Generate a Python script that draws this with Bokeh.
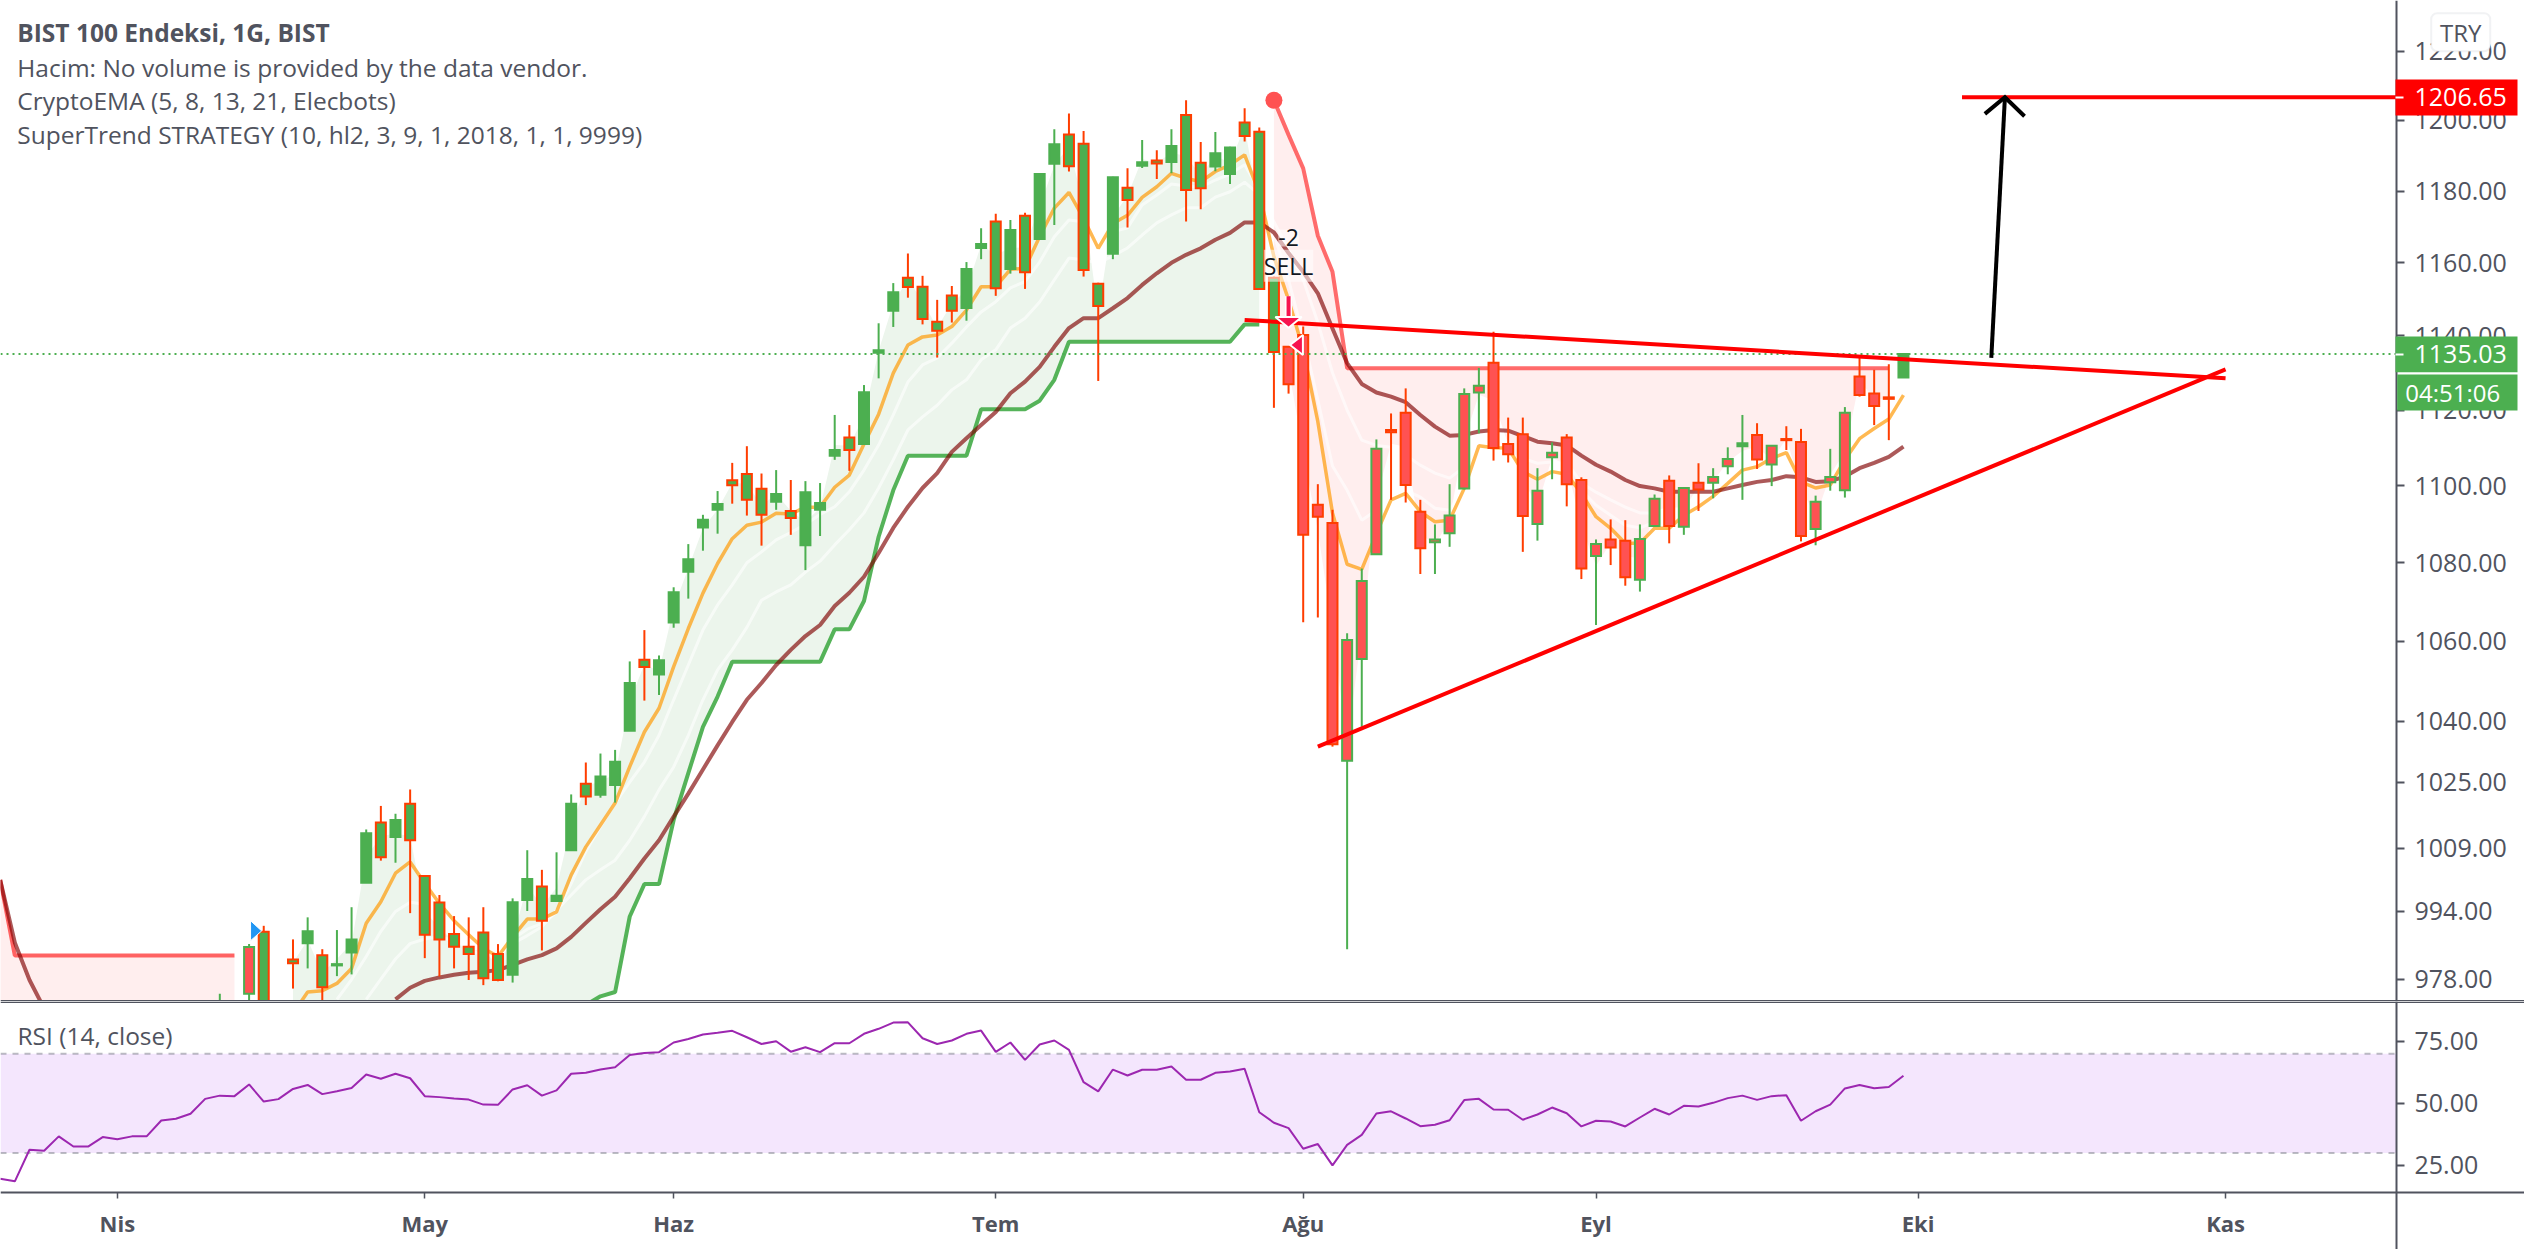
from bokeh.embed import file_html
from bokeh.layouts import column
from bokeh.models import (BoxAnnotation, ColumnDataSource, FixedTicker, Label, PrintfTickFormatter,
                          Range1d)
from bokeh.plotting import figure
from bokeh.resources import INLINE

# ---------------- data ----------------
first_bar = 15
body_top = [
    972.5, 968, 985.5, 989.1, 968, 982.6, 989.2, 983.6, 981.5, 987.3,
    1012.6, 1015.2, 1015.8, 1019.7, 1002.3, 996, 988.6, 985.6, 988.9, 983.9,
    996.1, 1001.6, 999.8, 997.6, 1019.7, 1024.6, 1026.4, 1030, 1049.5, 1055.3,
    1055.2, 1072.4, 1080.9, 1091.1, 1095.2, 1101.4, 1103.1, 1099.2, 1097.8, 1093.4,
    1098.3, 1095.5, 1109.4, 1112.7, 1124.8, 1136.1, 1151.9, 1155.9, 1153.4, 1143.8,
    1151, 1158.3, 1165.2, 1171.5, 1169.1, 1173.1, 1184.8, 1193.2, 1196, 1193.4,
    1154.2, 1183.9, 1180.9, 1188.1, 1188.6, 1192.7, 1201.6, 1188, 1190.7, 1192.3,
    1199.4, 1196.8, 1155.9, 1137, 1140.2, 1095, 1090.3, 1060.3, 1075.3, 1109.7,
    1114.7, 1119.3, 1093.2, 1086, 1092.2, 1124.3, 1126.5, 1132.7, 1111, 1113.6,
    1098.7, 1108.7, 1112.7, 1101.5, 1084.8, 1086, 1085.7, 1086.1, 1096.6, 1101.3,
    1099.4, 1100.8, 1102.3, 1107, 1111.2, 1113.4, 1110.5, 1112.3, 1111.5, 1095.8,
    1102.3, 1119.3, 1129, 1124.4, 1123.4, 1135.03]
body_bottom = [
    971, 967, 974.6, 970, 967, 981.7, 986.4, 976.1, 981.2, 984.2,
    1000.7, 1006.8, 1011.7, 1010.9, 988.4, 987.3, 985.6, 983.9, 978.2, 977.8,
    979, 996.6, 991.7, 996.4, 1008.5, 1021.5, 1021.9, 1024.3, 1037.6, 1053.5,
    1051.6, 1064.7, 1077.7, 1089.1, 1093.7, 1100.1, 1096.3, 1092.4, 1095.8, 1091.6,
    1084.5, 1093.7, 1107.9, 1109.4, 1111, 1135.4, 1146.8, 1153.3, 1144.6, 1141.4,
    1146.8, 1147.6, 1164.1, 1153, 1158.3, 1157.4, 1166.6, 1187.7, 1187, 1158,
    1148.1, 1162.5, 1177.5, 1187.1, 1187.8, 1188.2, 1180.3, 1180.8, 1186.9, 1184.8,
    1195.6, 1152.8, 1135.6, 1126.9, 1087.2, 1091.9, 1034.3, 1030.2, 1055.5, 1082.2,
    1114.1, 1100.2, 1083.7, 1085.3, 1087.6, 1099.3, 1124.7, 1109.9, 1108.3, 1092.1,
    1090, 1107.5, 1100.4, 1078.5, 1081.7, 1083.9, 1076.3, 1075.6, 1089.5, 1089.5,
    1089.3, 1099, 1100.8, 1105.1, 1110.4, 1106.9, 1105.6, 1112, 1086.9, 1088.7,
    1100.9, 1098.8, 1124, 1121.1, 1123, 1128.7]
high = [
    974.6, 970, 986.2, 990.5, 971, 987.3, 992.5, 985, 989.5, 994.9,
    1013.5, 1019.2, 1017.3, 1023.2, 1002.5, 997.8, 992.8, 992.5, 994.9, 986.2,
    997, 1008.5, 1003.8, 1008, 1022, 1029.8, 1032, 1032.9, 1054.9, 1062.8,
    1056.4, 1073.7, 1084.8, 1092.4, 1098.6, 1106, 1110.4, 1103.2, 1104.1, 1101.5,
    1101.2, 1100.7, 1118.7, 1116, 1126.7, 1143.4, 1154.4, 1162.6, 1156.4, 1149.8,
    1153.6, 1160.2, 1169.6, 1173.6, 1171.9, 1173.9, 1185, 1197.5, 1202, 1197,
    1154.5, 1184, 1186.4, 1194.4, 1191.5, 1197.5, 1205.8, 1193.9, 1196.7, 1192.5,
    1203.5, 1198, 1156.2, 1137, 1142.5, 1100.4, 1093.7, 1062, 1078.5, 1112.2,
    1119.1, 1125.8, 1096.3, 1089.9, 1100.4, 1125.8, 1131.3, 1141.1, 1118, 1118,
    1104.6, 1111.4, 1113.6, 1102.2, 1086, 1091.2, 1091, 1089.9, 1097.7, 1102.7,
    1099.5, 1105.9, 1104.6, 1110.1, 1118.7, 1116.5, 1110.7, 1115.7, 1115, 1097.4,
    1109.7, 1120.8, 1134.6, 1130.8, 1132.3, 1135.03]
low = [
    970, 965, 972, 968, 965, 975.8, 980.5, 973.1, 978.7, 979.1,
    1000.7, 1006, 1005.5, 993.5, 982.9, 978.6, 980.5, 977.8, 976.6, 977.5,
    977.2, 994, 984.7, 996.4, 1008.5, 1019.4, 1021.2, 1020, 1037.6, 1045.1,
    1046.5, 1063.4, 1070.8, 1083.1, 1087.5, 1095.3, 1092.2, 1084.4, 1093.7, 1087.2,
    1078.1, 1086.9, 1106.8, 1103.9, 1111, 1128.5, 1142.4, 1150.4, 1143.1, 1134.1,
    1143.6, 1144.1, 1161, 1150.9, 1157, 1152.8, 1166.6, 1170.5, 1185.5, 1156.2,
    1127.8, 1161, 1169.8, 1186.5, 1183.4, 1185, 1171.5, 1174.9, 1185.6, 1182,
    1194, 1152.5, 1120.6, 1124.4, 1064.8, 1066, 1033.7, 985, 1038.6, 1082,
    1096.3, 1095.6, 1077.1, 1077.1, 1084.1, 1099, 1113.8, 1106.6, 1106.1, 1082.8,
    1085.7, 1101.7, 1094.6, 1075.8, 1064.1, 1079.4, 1074.1, 1072.6, 1089.4, 1085,
    1087.2, 1093.4, 1096.7, 1103, 1096.3, 1104.4, 1099.9, 1109.4, 1085.5, 1084.5,
    1098.7, 1096.9, 1123.6, 1116, 1112, 1128.7]
bar_kind = (
    "G G RG GR G GR G GR G G "
    "G GR G GR GR GR GR GR GR GR "
    "G G GR G G GR G G G GR "
    "G G G G G GR GR GR G GR "
    "G G G GR G G G GR GR GR "
    "GR G G GR G GR G G GR GR "
    "GR G GR G GR G GR GR G G "
    "GR GR GR R R R R RG RG RG "
    "R R R RG RG RG RG R R R "
    "RG RG R R RG R R RG RG R "
    "RG R RG RG G R RG R R RG "
    "RG RG R R R G").split()

ema5_start = 20
ema5 = [970, 975, 975.3, 977, 980.5, 991.1, 996.2, 1003, 1005.7, 1000.6,
        995.8, 991.7, 988.4, 985.2, 983.3, 987.9, 992.1, 992.1, 993.8, 1002.6,
        1009.3, 1014.6, 1019.9, 1028.8, 1037.3, 1043.2, 1053.6, 1063.2, 1072.2, 1079.8,
        1086.2, 1089.7, 1090.5, 1092.8, 1092.6, 1094.4, 1094.4, 1099.6, 1102.8, 1111,
        1118.9, 1129.9, 1137.5, 1139.7, 1140.2, 1142.5, 1147, 1153.4, 1153.4, 1158.2,
        1158.5, 1167.3, 1175.2, 1179.6, 1172.3, 1164, 1170.9, 1173.2, 1178.2, 1181.2,
        1185, 1183.6, 1182.6, 1185.5, 1187.4, 1190.2, 1179.4, 1161.7, 1149.8, 1136.2,
        1116.9, 1092.9, 1079.6, 1078.3, 1087.5, 1096.3, 1098, 1093.2, 1090.6, 1091,
        1099.3, 1110.5, 1110, 1109.9, 1103.7, 1101.7, 1103.7, 1103, 1098, 1091.9,
        1088.9, 1085, 1085, 1088.9, 1088.9, 1092.3, 1094.5, 1097.2, 1100.6, 1104.1,
        1105, 1107.2, 1108.7, 1101, 1099.4, 1100.2, 1106.8, 1112.4, 1115.1, 1117.6, 1124]
ema8_start = 23
ema8 = [973.3, 977.9, 983.3, 989.2, 993.9, 996.1, 995.6, 993.7, 991, 987.4,
        984.6, 985.5, 987.4, 989.7, 991, 993.7, 1000.5, 1008.2, 1014.2, 1019.9,
        1025, 1029.9, 1036.5, 1045.3, 1054, 1062.8, 1069.2, 1074.3, 1080, 1082.8,
        1085.9, 1087.8, 1089.9, 1092.5, 1094.5, 1098.4, 1104.1, 1110.7, 1118.7, 1127.5,
        1132.1, 1134, 1138, 1142.4, 1146.5, 1149.3, 1153.1, 1154.8, 1160.2, 1167.2,
        1171.9, 1171.4, 1166.4, 1168.6, 1169.7, 1176.1, 1178.9, 1182, 1181.4, 1181.1,
        1183.1, 1184.8, 1187.4, 1180.3, 1167.8, 1155.3, 1140, 1122.7, 1105.2, 1098.8,
        1091, 1093.6, 1097.5, 1098.8, 1097, 1094.1, 1093.6, 1099.3, 1106.2, 1106.7,
        1106.7, 1103.3, 1102, 1103.3, 1102.8, 1098.8, 1094.9, 1092.3, 1089.7, 1089,
        1090.5, 1090.5, 1093.1, 1094.9, 1097.5, 1100.7, 1103.6, 1104.6, 1106.2, 1107.3,
        1102.8, 1101, 1101.2, 1105.4, 1110.4, 1113.3, 1115.2, 1120.5]
ema13_start = 25
ema13 = [973.3, 978, 982.7, 986.3, 987.4, 987.9, 987, 985.1, 983.4, 984.7,
         986.3, 988.2, 990.3, 994.2, 997.8, 1001.4, 1003.8, 1006.1, 1010.9, 1016.6,
         1023.1, 1028.7, 1036.5, 1045.3, 1052.8, 1057.8, 1063.5, 1070.4, 1072.5, 1074.3,
         1077.6, 1080.4, 1084.6, 1088.5, 1092.9, 1099.4, 1106.8, 1114.7, 1118.2, 1121.3,
         1125.4, 1128.1, 1133.5, 1136.2, 1142.1, 1144.8, 1149.2, 1155.3, 1161.3, 1160.8,
         1159.9, 1161.9, 1164.1, 1167.7, 1171.1, 1173.3, 1175.3, 1175.3, 1178.3, 1179.8,
         1182.5, 1178.9, 1171.4, 1163.6, 1155.3, 1143.6, 1130, 1120, 1112, 1110.6,
         1110.1, 1108, 1105.4, 1103.3, 1102, 1104.9, 1107.2, 1108, 1108, 1107.2,
         1105.9, 1106.2, 1106.2, 1100.7, 1098.3, 1096.3, 1094.4, 1092.9, 1092.9, 1092.9,
         1094.9, 1096.8, 1098.8, 1102, 1104.1, 1104.1, 1104.6, 1105.4, 1101.5, 1101,
         1101, 1103.6, 1106.7, 1109.4, 1111.2, 1114.7]
ema21_early = [1001.4, 986.5, 977.8, 971.2]
ema21_start = 27
ema21 = [973.3, 976, 977.6, 978.4, 979, 979.5, 979.7, 980.1, 981.3, 982.6,
         983.6, 985.2, 987.9, 991.2, 994.4, 997.4, 1001.8, 1006.5, 1010.9, 1016.6,
         1022.2, 1028.1, 1034, 1039.8, 1045.3, 1049.5, 1054, 1057.8, 1061.3, 1064.1,
         1068.9, 1072.3, 1076.4, 1082.5, 1089, 1094.5, 1099.4, 1103.3, 1108.9, 1112.5,
         1116, 1119.5, 1124.5, 1127.6, 1131.6, 1137, 1142.1, 1144.8, 1144.8, 1147.5,
         1150.3, 1153.9, 1157.1, 1160, 1162.2, 1164, 1166.4, 1168.3, 1171.2, 1171.2,
         1168.4, 1162.7, 1157.5, 1151.6, 1142, 1132.6, 1127, 1124.7, 1123.6, 1122.1,
         1118.7, 1115.6, 1113.2, 1113.4, 1114.3, 1114.7, 1114.5, 1113.1, 1111.6, 1111.2,
         1110.6, 1107.9, 1105.5, 1103.7, 1101.5, 1099.9, 1099.3, 1098.4, 1098.4, 1098.4,
         1098.4, 1099.3, 1100.2, 1101, 1101.5, 1102.5, 1102.2, 1101, 1101.2, 1102.4,
         1104.6, 1106, 1107.6, 1110.3]

st_early = [1001.4, 983.5] + [983.5] * 15      # bars 0-16, red
st_early_floor = 960                           # the band runs past the bottom of the pane
st_up_start = 20
st_up = [965] * 20 + [972, 974, 975, 992.7, 1000.4, 1000.4, 1015.8, 1027.2, 1038.6, 1046.1] \
        + [1054.8] * 7 + [1063, 1063, 1070.2, 1086.7, 1098.8] + [1107.9] * 5 + [1120.2] * 4 \
        + [1122.5, 1128.1] + [1138.4] * 12 + [1143.1, 1143.1]
st_down_start = 87
st_down = [1205.8, 1195.9, 1186.4, 1167.5, 1157.5] + [1131.2] * 38

rsi = [19.6, 18.6, 31.3, 30.9, 36.7, 32.6, 32.6, 36.4, 35.5, 36.7,
       36.7, 43.1, 43.8, 45.8, 51.8, 53.1, 52.9, 57.6, 50.7, 51.7,
       55.8, 57.4, 53.7, 54.9, 56.2, 61.6, 59.9, 61.9, 60.1, 52.9,
       52.5, 51.9, 51.5, 49.5, 49.4, 55.6, 57.3, 53.1, 55.2, 61.9,
       62.3, 63.6, 64.5, 69.5, 70.3, 70.6, 74.5, 75.9, 77.7, 78.4,
       79.2, 76.6, 73.9, 75, 70.8, 72.6, 70.6, 74.2, 74.2, 78,
       80, 82.5, 82.6, 76.2, 73.9, 75.3, 78, 79.3, 70.7, 74.5,
       67.5, 73.7, 75.3, 71.5, 58.5, 54.8, 63.6, 61.2, 63.5, 63.5,
       64.8, 59.5, 59.5, 62.3, 62.8, 63.9, 46.4, 42.2, 40, 31.7,
       33.6, 25, 33.3, 37.3, 45.9, 46.8, 43.9, 40.8, 41.4, 43.2,
       51.3, 51.8, 47.5, 47.4, 43.4, 45.5, 48.3, 46, 40.7, 43,
       42.7, 40.7, 44.3, 47.8, 45.5, 49, 48.7, 50.2, 52.1, 53.1,
       51.4, 52.9, 53.3, 43, 46.8, 49.5, 56, 57.4, 56.1, 56.6, 61.1]

price_ticks = [978, 994, 1009, 1025, 1040, 1060, 1080, 1100, 1120, 1140, 1160, 1180, 1200, 1220]
rsi_ticks = [25, 50, 75]
month_ticks = [8, 29, 46, 68, 89, 109, 131, 152]
month_labels = ["Nis", "May", "Haz", "Tem", "Ağu", "Eyl", "Eki", "Kas"]
last_price = 1135.03
target_price = 1206.65
legend_lines = ["BIST 100 Endeksi, 1G, BIST",
                "Hacim: No volume is provided by the data vendor.",
                "CryptoEMA (5, 8, 13, 21, Elecbots)",
                "SuperTrend STRATEGY (10, hl2, 3, 9, 1, 2018, 1, 1, 9999)"]

# ---------------- styling ----------------
FONT = "Open Sans"
INK = "#50535e"
GREEN = "#4caf50"
RED_FILL = "#ff5252"
RED_EDGE = "#ff3d00"
XR = (0.02, 172.42)      # whole page width
AXIS_X = 163.68          # where the price axis stands
PAGE_W = 2524
MAIN_H = 1001
RSI_H = 191
BOTTOM_H = 57
RSI_PANE_FLOOR = 14.1


def span_from(start, values):
    return list(range(start, start + len(values)))


def style_price_axis(axis):
    axis.fixed_location = AXIS_X
    axis.formatter = PrintfTickFormatter(format="%.2f")
    axis.minor_tick_line_color = None
    axis.major_tick_out, axis.major_tick_in = 8, 0
    axis.major_tick_line_width = 2
    axis.major_tick_line_color = INK
    axis.axis_line_width = 2
    axis.axis_line_color = INK
    axis.major_label_text_font = FONT
    axis.major_label_text_font_size = "25px"
    axis.major_label_text_color = INK
    axis.major_label_standoff = 10


x_range = Range1d(*XR)
p = figure(width=PAGE_W, height=MAIN_H, frame_width=PAGE_W, frame_height=MAIN_H,
           x_range=x_range, y_range=Range1d(972.8, 1234.8), y_axis_type="log",
           y_axis_location="right", x_axis_location=None, output_backend="svg",
           toolbar_location=None, min_border=0, outline_line_color=None,
           background_fill_color="white")
p.grid.visible = False
p.yaxis[0].ticker = FixedTicker(ticks=price_ticks)
style_price_axis(p.yaxis[0])

# super trend bands, between the band line and the bar's ohlc4
bars = list(range(first_bar, first_bar + len(body_top)))
ohlc4 = {i: (t + b + h + l) / 4 for i, t, b, h, l in zip(bars, body_top, body_bottom, high, low)}

xe = span_from(0, st_early)
p.varea(xe, y1=st_early, y2=[st_early_floor] * len(xe), fill_color="#ffeeee")
xu = span_from(st_up_start, st_up)
p.varea(xu, y1=st_up, y2=[ohlc4[i] for i in xu], fill_color="#ecf5ec")
xd = span_from(st_down_start, st_down)
p.varea(xd, y1=st_down, y2=[ohlc4[i] for i in xd], fill_color="#ffeeee")

# moving averages
p.line(span_from(ema13_start, ema13), ema13, line_color="white", line_alpha=0.6, line_width=3)
p.line(span_from(ema8_start, ema8), ema8, line_color="white", line_alpha=0.6, line_width=3)
p.line(span_from(ema5_start, ema5), ema5, line_color="#ff9800", line_alpha=0.68, line_width=3.5)
p.line(xe, st_early, line_color=RED_FILL, line_alpha=0.9, line_width=4)
p.line(xd, st_down, line_color=RED_FILL, line_alpha=0.85, line_width=4)
p.line(xu, st_up, line_color=GREEN, line_alpha=0.95, line_width=4)
p.line(span_from(0, ema21_early), ema21_early, line_color="#800000", line_alpha=0.65, line_width=4)
p.line(span_from(ema21_start, ema21), ema21, line_color="#800000", line_alpha=0.65, line_width=4)
p.scatter([st_down_start], [st_down[0]], size=17, marker="circle", fill_color=RED_FILL, line_color=None)

# candles
src = ColumnDataSource(dict(
    x=bars, top=body_top, bottom=body_bottom, high=high, low=low,
    fill=[GREEN if k.startswith("G") else RED_FILL for k in bar_kind],
    edge=[GREEN if k in ("G", "RG") else RED_EDGE for k in bar_kind]))
p.segment("x", "high", "x", "low", source=src, line_color="edge", line_width=2)
p.vbar("x", width=10 / 14.64, top="top", bottom="bottom", source=src, fill_color="fill",
       line_color="edge", line_width=2, line_join="miter")

# dotted last-price line
p.line([XR[0], AXIS_X], [last_price, last_price], line_color=GREEN, line_width=2, line_dash=[2, 4])

# drawn trend lines and target
p.line([85, 152], [1144.3, 1128.5], line_color="#ff0000", line_width=4)
p.line([90, 152], [1033.7, 1130.9], line_color="#ff0000", line_width=4)
p.line([134, AXIS_X], [target_price, target_price], line_color="#ff0000", line_width=4)
p.line([136, 136.93], [1134, target_price], line_color="black", line_width=4)
p.line([135.56, 136.93, 138.27], [1201.9, target_price, 1201.2], line_color="black", line_width=4, line_join="miter")

# signals
p.patch([17.1, 17.1, 17.86], [991.7, 987, 989.3], fill_color="#2196f3", line_color="white", line_width=1)
p.segment([88], [1150.8], [88], [1145.1], line_color="white", line_width=7)
p.segment([88], [1150.8], [88], [1145.1], line_color="#f7134f", line_width=4)
p.patch([87.1, 88.9, 88], [1145.1, 1145.1, 1142.2], fill_color="#f7134f", line_color="white", line_width=2)
p.patch([88.98, 88.98, 88.1], [1140.2, 1134.8, 1137.5], fill_color="#f7134f", line_color="white", line_width=2)

for sig_text, sig_price in (("-2", 1166.9), ("SELL", 1159.2)):
    p.add_layout(Label(x=88, y=sig_price, text=sig_text, text_font=FONT, text_font_size="23px",
                       text_color="#131722", text_align="center", text_baseline="middle",
                       background_fill_color="white", background_fill_alpha=0.55))


def box(plot, left, right, top, bottom, color, **kw):
    plot.add_layout(BoxAnnotation(left=left, right=right, top=top, bottom=bottom,
                                  left_units="canvas", right_units="canvas",
                                  top_units="canvas", bottom_units="canvas",
                                  fill_color=color, fill_alpha=1, line_color=kw.pop("line_color", None),
                                  **kw))


def note(plot, x, y, text, color=INK, style="normal", size="24.5px", y_units="screen", align="left"):
    plot.add_layout(Label(x=x, y=y, x_units="screen", y_units=y_units, text=text, text_font=FONT,
                          text_font_size=size, text_font_style=style, text_color=color,
                          text_baseline="middle", text_align=align))


# price tags in the axis strip
box(p, 2395, 2517, 79, 115, "#ff0000")
box(p, 2395, 2517, 336, 371.7, GREEN)
box(p, 2396.7, 2517, 374, 410, GREEN)
box(p, 2395, 2403, 96, 98, "white")
box(p, 2395, 2403, 353, 355, "white")
note(p, 2414, target_price, "1206.65", "white", size="25px", y_units="data")
note(p, 2414, last_price, "1135.03", "white", size="25px", y_units="data")
note(p, 2404.7, 1124.8, "04:51:06", "white", size="24px", y_units="data")
box(p, 2430.7, 2489.7, 12.7, 50.7, "white", line_color="#d1d4dc", line_width=2, border_radius=6)
note(p, 2460.2, MAIN_H - 31.7, "TRY", size="24px", align="center")

# separator on top of the RSI pane (main side)
box(p, 0, PAGE_W, 999.5, 1001, INK)

# legend
for k, (txt, yy) in enumerate(zip(legend_lines, [32.3, 66.7, 100, 134])):
    note(p, 16.8, MAIN_H - yy, txt, style="bold" if k == 0 else "normal")

# ---------------- RSI pane (its frame runs to the page bottom; the axis stands on the pane floor) ----------------
per_px = (91 - RSI_PANE_FLOOR) / RSI_H
r = figure(width=PAGE_W, height=RSI_H + BOTTOM_H, frame_width=PAGE_W, frame_height=RSI_H + BOTTOM_H,
           x_range=x_range, y_range=Range1d(RSI_PANE_FLOOR - BOTTOM_H * per_px, 91), y_axis_location="right",
           output_backend="svg", toolbar_location=None, min_border=0, outline_line_color=None,
           background_fill_color="white")
r.grid.visible = False
r.yaxis[0].ticker = FixedTicker(ticks=rsi_ticks)
style_price_axis(r.yaxis[0])

ax2 = r.xaxis[0]
ax2.fixed_location = RSI_PANE_FLOOR
ax2.ticker = FixedTicker(ticks=month_ticks)
ax2.major_label_overrides = dict(zip(month_ticks, month_labels))
ax2.minor_tick_line_color = None
ax2.major_tick_out, ax2.major_tick_in = 6, 0
ax2.major_tick_line_width = 1.5
ax2.major_tick_line_color = INK
ax2.axis_line_width = 2
ax2.axis_line_color = INK
ax2.major_label_text_font = FONT
ax2.major_label_text_font_style = "bold"
ax2.major_label_text_font_size = "22px"
ax2.major_label_text_color = INK
ax2.major_label_standoff = 9

r.add_layout(BoxAnnotation(bottom=30, top=70, right=AXIS_X, fill_color="#f4e6fd", fill_alpha=1,
                           line_color=None, level="underlay"))
for lvl in (70, 30):
    r.line([XR[0], AXIS_X], [lvl, lvl], line_color="#787b86", line_alpha=0.5, line_width=2, line_dash=[6, 6])
r.line(span_from(0, rsi), rsi, line_color="#9c27b0", line_width=2)
note(r, 17, RSI_H + BOTTOM_H - 34, "RSI (14, close)")

box(r, 0, PAGE_W, 0, 1.5, INK)                             # separator, RSI side

layout = column(p, r, spacing=0)
open("out.html", "w").write(file_html(layout, INLINE))
